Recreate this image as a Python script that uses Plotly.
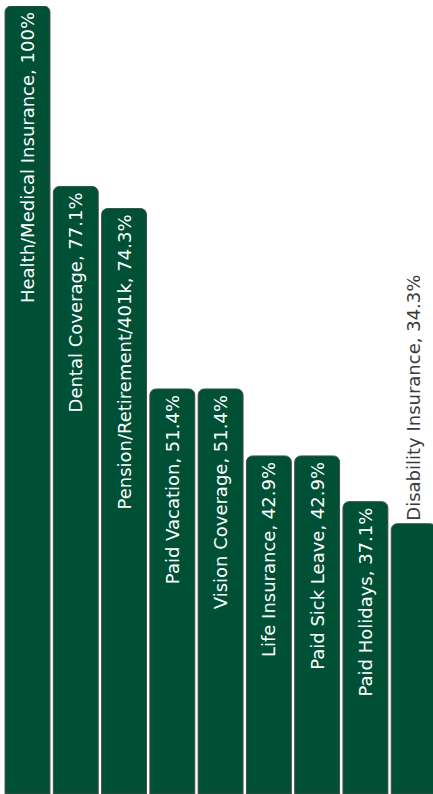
import plotly.graph_objects as go

categories = [
    "Health/Medical Insurance", "Dental Coverage", "Pension/Retirement/401k",
    "Paid Vacation", "Vision Coverage", "Life Insurance", "Paid Sick Leave",
    "Paid Holidays", "Disability Insurance",
]
values = [100, 77.1, 74.3, 51.4, 51.4, 42.9, 42.9, 37.1, 34.3]
positions = ["inside"] * 8 + ["outside"]

fig = go.Figure(go.Bar(
    x=categories,
    y=values,
    width=0.93,
    marker=dict(color="#005036", line=dict(color="#4a4a4a", width=1)),
    texttemplate="%{x}, %{y}%",
    textposition=positions,
    insidetextanchor="end",
    textangle=-90,
    insidetextfont=dict(color="white", size=18, family="DejaVu Sans"),
    outsidetextfont=dict(color="#3a3a3a", size=18, family="DejaVu Sans"),
    constraintext="none",
    cliponaxis=False,
    hoverinfo="skip",
))

fig.update_layout(
    width=433, height=794,
    margin=dict(l=0, r=0, t=6, b=0),
    paper_bgcolor="white", plot_bgcolor="white",
    barcornerradius=6,
    showlegend=False,
    xaxis=dict(visible=False, range=[-0.57, 8.40]),
    yaxis=dict(visible=False, range=[0, 100]),
)

fig.write_html(
    "out.html",
    config={"displayModeBar": False},
    post_script="document.body.style.margin='0';document.body.style.overflow='hidden';",
)
